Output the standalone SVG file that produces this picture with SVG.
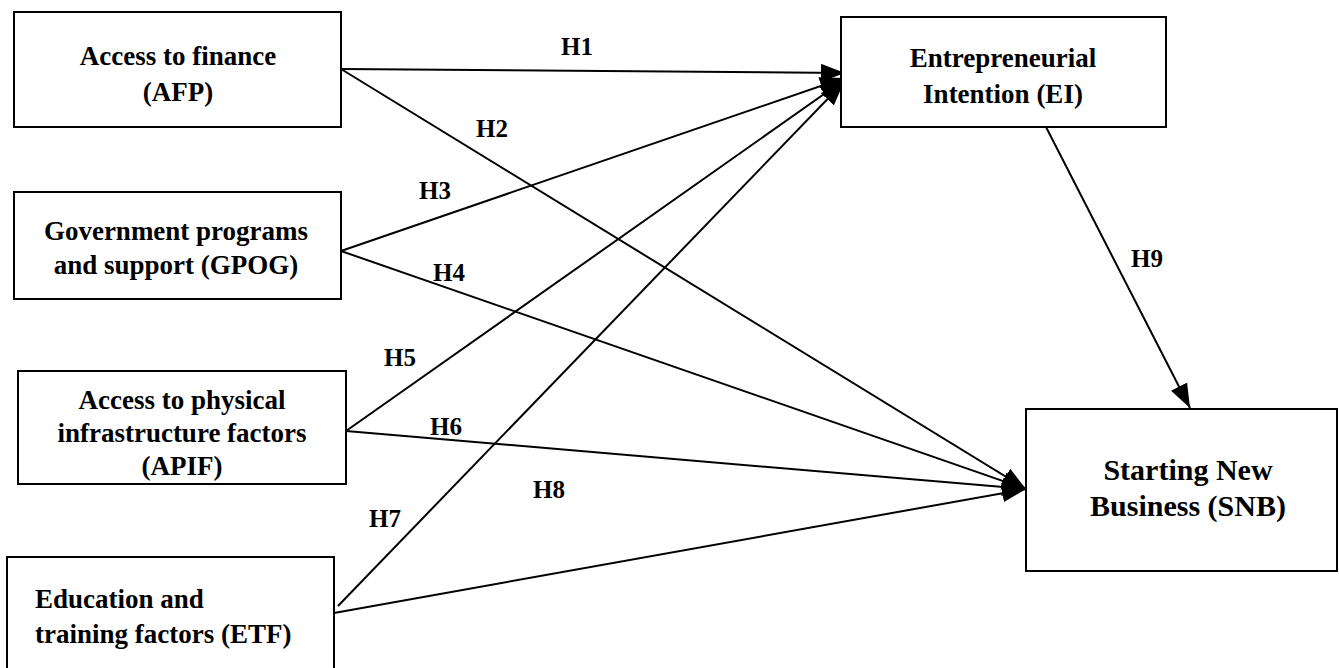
<svg xmlns="http://www.w3.org/2000/svg" width="1339" height="668" viewBox="0 0 1339 668">
<style>
.box{fill:#fff;stroke:#000;stroke-width:2}
text{font-family:'Liberation Serif','Times New Roman',serif;font-weight:bold;fill:#000;text-anchor:middle}
.t{font-size:27px}
.tl{text-anchor:start}
.big{font-size:30px}
.lbl{font-size:25px}
.c{stroke:#000;stroke-width:2;fill:none;marker-end:url(#ah)}
</style>
<defs>
<marker id="ah" markerUnits="userSpaceOnUse" markerWidth="26" markerHeight="20" refX="24" refY="9" orient="auto">
<path d="M0,0 L24,9 L0,18 z" fill="#000"/>
</marker>
</defs>
<rect width="1339" height="668" fill="#fff"/>
<g id="connectors">
<line class="c" x1="341" y1="69" x2="845" y2="73"/>
<line class="c" x1="341" y1="69" x2="1026" y2="489"/>
<line class="c" x1="341" y1="251" x2="844" y2="78"/>
<line class="c" x1="341" y1="251" x2="1026" y2="489"/>
<line class="c" x1="346" y1="431" x2="844" y2="80"/>
<line class="c" x1="346" y1="431" x2="1026" y2="489"/>
<line class="c" x1="338" y1="606" x2="844" y2="82"/>
<line class="c" x1="334" y1="613" x2="1026" y2="489"/>
<line class="c" x1="1046" y1="127" x2="1190" y2="408"/>
</g>
<g id="labels">
<text class="lbl" x="577" y="55">H1</text>
<text class="lbl" x="492" y="137">H2</text>
<text class="lbl" x="435" y="199">H3</text>
<text class="lbl" x="449" y="281">H4</text>
<text class="lbl" x="400" y="366">H5</text>
<text class="lbl" x="446" y="435">H6</text>
<text class="lbl" x="385" y="527">H7</text>
<text class="lbl" x="549" y="498">H8</text>
<text class="lbl" x="1147" y="267">H9</text>
</g>
<g id="afp">
<rect class="box" x="14" y="12" width="327" height="115"/>
<text class="t" x="178" y="65">Access to finance</text>
<text class="t" x="178" y="101">(AFP)</text>
</g>
<g id="gpog">
<rect class="box" x="14" y="192" width="327" height="107"/>
<text class="t" x="176" y="240">Government programs</text>
<text class="t" x="176" y="274">and support (GPOG)</text>
</g>
<g id="apif">
<rect class="box" x="18" y="371" width="328" height="113"/>
<text class="t" x="182" y="409">Access to physical</text>
<text class="t" x="182" y="442">infrastructure factors</text>
<text class="t" x="182" y="475">(APIF)</text>
</g>
<g id="etf">
<rect class="box" x="7" y="557" width="327" height="120"/>
<text class="t tl" x="35" y="608">Education and</text>
<text class="t tl" x="35" y="643">training factors (ETF)</text>
</g>
<g id="ei">
<rect class="box" x="841" y="17" width="325" height="110"/>
<text class="t" x="1003" y="67">Entrepreneurial</text>
<text class="t" x="1003" y="103">Intention (EI)</text>
</g>
<g id="snb">
<rect class="box" x="1026" y="409" width="311" height="162"/>
<text class="t big" x="1188" y="480">Starting New</text>
<text class="t big" x="1188" y="516">Business (SNB)</text>
</g>
</svg>
